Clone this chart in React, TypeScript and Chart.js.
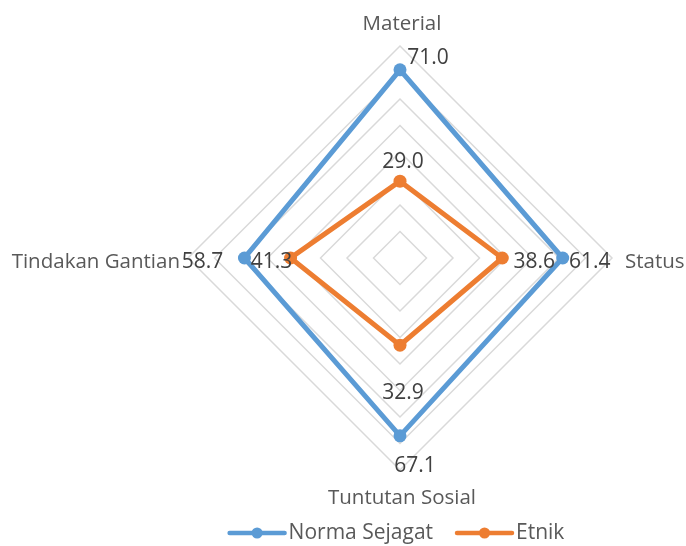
import React, { useEffect, useRef } from "react";
import { Chart, registerables } from "chart.js";

Chart.register(...registerables);

const categories = ["Material", "Status", "Tuntutan Sosial", "Tindakan Gantian"];
const normaSejagat = [71.0, 61.4, 67.1, 58.7];
const etnik = [29.0, 38.6, 32.9, 41.3];
const seriesNames = ["Norma Sejagat", "Etnik"];

const BLUE = "#5B9BD5";
const ORANGE = "#ED7D31";
const FONT = "'Open Sans', sans-serif";

// Where each value label sits relative to its point (dx, dy)
const labelOffsets: [number, number][][] = [
  [[28, -12], [27, 4], [15, 30], [-42, 4]],
  [[3, -19], [32, 4], [3, 48], [-19, 4]],
];

const valueLabels = {
  id: "valueLabels",
  afterDatasetsDraw(chart: any) {
    const ctx = chart.ctx;
    ctx.save();
    ctx.font = `21px ${FONT}`;
    ctx.fillStyle = "#404040";
    ctx.textAlign = "center";
    ctx.textBaseline = "middle";
    chart.data.datasets.forEach((ds: any, di: number) => {
      const meta = chart.getDatasetMeta(di);
      meta.data.forEach((pt: any, i: number) => {
        const [dx, dy] = labelOffsets[di][i];
        ctx.fillText(Number(ds.data[i]).toFixed(1), pt.x + dx, pt.y + dy);
      });
    });
    ctx.restore();
  },
};

const categoryLabels = {
  id: "categoryLabels",
  afterDraw(chart: any) {
    const scale = chart.scales.r;
    const ctx = chart.ctx;
    const r = scale.drawingArea;
    const cfg: { gap: number; align: CanvasTextAlign; dx: number }[] = [
      { gap: 22, align: "center", dx: 2 },
      { gap: 13, align: "left", dx: 0 },
      { gap: 28, align: "center", dx: 2 },
      { gap: 8, align: "right", dx: 0 },
    ];
    ctx.save();
    ctx.font = `20.5px ${FONT}`;
    ctx.fillStyle = "#595959";
    ctx.textBaseline = "middle";
    chart.data.labels.forEach((lab: string, i: number) => {
      const p = scale.getPointPosition(i, r + cfg[i].gap);
      ctx.textAlign = cfg[i].align;
      const y = i === 1 || i === 3 ? p.y + 4 : p.y;
      ctx.fillText(lab, p.x + cfg[i].dx, y);
    });
    ctx.restore();
  },
};

const lineLegend = {
  id: "lineLegend",
  afterDraw(chart: any) {
    const ctx = chart.ctx;
    const scale = chart.scales.r;
    const y = 533;
    const symW = 55;
    const textGap = 4;
    const itemGap = 24;
    ctx.save();
    ctx.font = `21px ${FONT}`;
    const items = chart.data.datasets.map((ds: any) => ({
      ds,
      w: symW + textGap + ctx.measureText(ds.label).width,
    }));
    const total = items.reduce((s: number, it: any) => s + it.w, 0) + itemGap * (items.length - 1);
    let x = scale.xCenter - 3 - total / 2;
    items.forEach((it: any) => {
      const c = it.ds.borderColor;
      ctx.strokeStyle = c;
      ctx.lineWidth = 4.5;
      ctx.lineCap = "round";
      ctx.beginPath();
      ctx.moveTo(x, y);
      ctx.lineTo(x + symW, y);
      ctx.stroke();
      ctx.fillStyle = c;
      ctx.beginPath();
      ctx.arc(x + symW / 2, y, 5.5, 0, Math.PI * 2);
      ctx.fill();
      ctx.fillStyle = "#595959";
      ctx.textAlign = "left";
      ctx.textBaseline = "middle";
      ctx.fillText(it.ds.label, x + symW + textGap, y);
      x += it.w + itemGap;
    });
    ctx.restore();
  },
};

export default function App() {
  const canvasRef = useRef<HTMLCanvasElement | null>(null);

  useEffect(() => {
    if (!canvasRef.current) return;
    const chart = new Chart(canvasRef.current, {
      type: "radar",
      data: {
        labels: categories,
        datasets: [
          {
            label: seriesNames[0],
            data: normaSejagat,
            borderColor: BLUE,
            backgroundColor: BLUE,
            pointBackgroundColor: BLUE,
            pointBorderColor: BLUE,
            borderWidth: 5,
            pointRadius: 6.5,
            pointBorderWidth: 0,
            fill: false,
          },
          {
            label: seriesNames[1],
            data: etnik,
            borderColor: ORANGE,
            backgroundColor: ORANGE,
            pointBackgroundColor: ORANGE,
            pointBorderColor: ORANGE,
            borderWidth: 5,
            pointRadius: 6.5,
            pointBorderWidth: 0,
            fill: false,
          },
        ],
      },
      options: {
        responsive: false,
        animation: false,
        devicePixelRatio: 1,
        layout: { padding: { left: 188, right: 74, top: 46, bottom: 76 } },
        plugins: {
          legend: { display: false },
          tooltip: { enabled: false },
        },
        scales: {
          r: {
            min: 0,
            max: 80,
            ticks: { stepSize: 10, display: false },
            grid: { color: "#d9d9d9", lineWidth: 1.5 },
            angleLines: { display: false },
            pointLabels: { display: false },
          },
        },
      },
      plugins: [valueLabels, categoryLabels, lineLegend],
    });
    return () => chart.destroy();
  }, []);

  return (
    <div style={{ position: "fixed", left: 0, top: 0, width: 686, height: 546, background: "#fff" }}>
      <canvas ref={canvasRef} width={686} height={546} />
    </div>
  );
}
